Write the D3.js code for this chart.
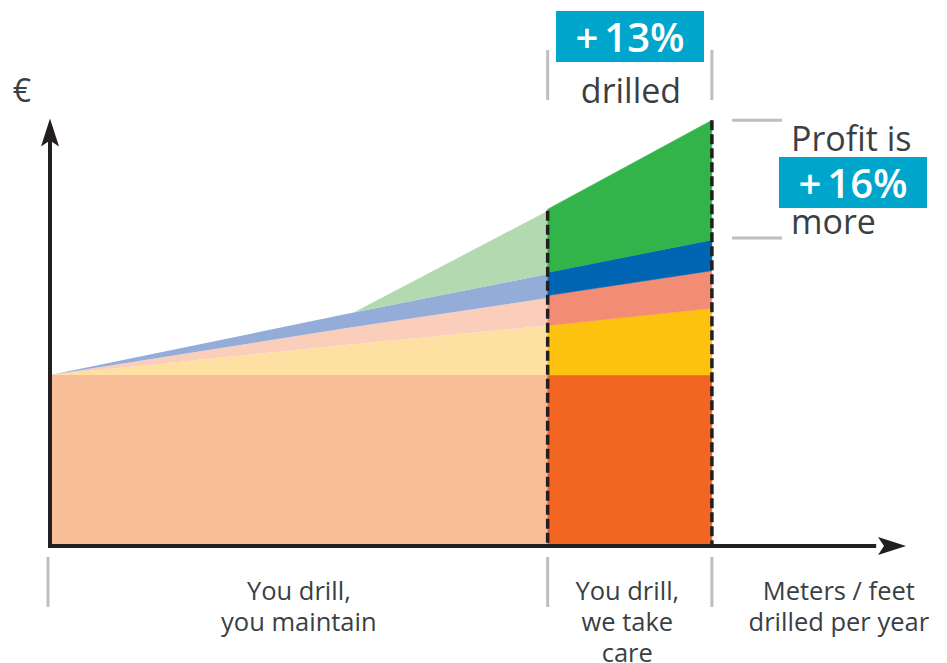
<!DOCTYPE html>
<html>
<head>
<meta charset="utf-8">
<script src="https://cdn.jsdelivr.net/npm/d3@7"></script>
<style>
  body { margin: 0; background: #fff; }
  text { font-family: "Open Sans", "Noto Sans", sans-serif; fill: #3a3f44; }
</style>
</head>
<body>
<svg id="chart" width="947" height="663"></svg>
<script>
// layers, bottom to top
var layers = ['base', 'yellow', 'pink', 'blue', 'green'];

// "you drill, you maintain" part (x in meters, index 100 = today)
var leftX      = [0, 61, 100];
var leftBase   = [100, 100, 100];
var leftYellow = [0, 18, 29];
var leftPink   = [0, 10, 16];
var leftBlue   = [0, 8.5, 14];
var leftGreen  = [0, 0, 37];

// "you drill, we take care" part
var rightX      = [100, 133];
var rightBase   = [100, 100];
var rightYellow = [29, 39];
var rightPink   = [17.5, 22];
var rightBlue   = [13.5, 18];
var rightGreen  = [37, 70];

var leftColors  = ['#f9be97', '#fee0a3', '#fbcebc', '#94acd8', '#b3d9b0'];
var rightColors = ['#f26522', '#fdc210', '#f38c74', '#0066b3', '#33b44a'];

var bottomLabels = [
  {x: 50, lines: ['You drill,', 'you maintain']},
  {x: 116, lines: ['You drill,', 'we take', 'care']},
  {x: 158.5, lines: ['Meters / feet', 'drilled per year']}
];

var dark = '#231f20', grey = '#bcbec0', boxBlue = '#00a5cb';

var svg = d3.select('#chart');

var x = d3.scaleLinear().domain([0, 172]).range([50, 906]);
var y = d3.scaleLinear().domain([0, 250]).range([546, 118.5]);

function rows(xs, arrs) {
  return xs.map(function(v, i) {
    var r = {x: v};
    layers.forEach(function(k, j) { r[k] = arrs[j][i]; });
    return r;
  });
}

var leftData = rows(leftX, [leftBase, leftYellow, leftPink, leftBlue, leftGreen]);
var rightData = rows(rightX, [rightBase, rightYellow, rightPink, rightBlue, rightGreen]);

var stack = d3.stack().keys(layers);
var area = d3.area()
  .x(function(d) { return x(d.data.x); })
  .y0(function(d) { return y(d[0]); })
  .y1(function(d) { return y(d[1]); });

svg.append('g').selectAll('path')
  .data(stack(leftData))
  .enter().append('path')
    .attr('fill', function(d, i) { return leftColors[i]; })
    .attr('d', area);

svg.append('g').selectAll('path')
  .data(stack(rightData))
  .enter().append('path')
    .attr('fill', function(d, i) { return rightColors[i]; })
    .attr('stroke', function(d, i) { return rightColors[i]; })
    .attr('stroke-width', 0.5)
    .attr('d', area);

// dashed separators
var topLeft = stack(leftData)[4][2][1];
var topRight = stack(rightData)[4][1][1];
[[100, topLeft], [133, topRight]].forEach(function(p) {
  svg.append('line')
    .attr('x1', x(p[0])).attr('x2', x(p[0]))
    .attr('y1', y(p[1])).attr('y2', y(0))
    .attr('stroke', dark).attr('stroke-width', 3.5)
    .attr('stroke-dasharray', '10,4');
});

// axes
svg.append('line')
  .attr('x1', x(0)).attr('x2', x(0))
  .attr('y1', y(0) + 2).attr('y2', y(240))
  .attr('stroke', dark).attr('stroke-width', 4);
svg.append('line')
  .attr('x1', x(0) - 2).attr('x2', x(166))
  .attr('y1', y(0)).attr('y2', y(0))
  .attr('stroke', dark).attr('stroke-width', 4);

var ax = x(0), ay = y(250);
svg.append('path')
  .attr('d', 'M' + ax + ',' + ay + ' L' + (ax + 9) + ',' + (ay + 28) + ' L' + ax + ',' + (ay + 22) + ' L' + (ax - 9) + ',' + (ay + 28) + 'Z')
  .attr('fill', dark);
var bx = x(172), by = y(0);
svg.append('path')
  .attr('d', 'M' + bx + ',' + by + ' L' + (bx - 28) + ',' + (by - 9) + ' L' + (bx - 22) + ',' + by + ' L' + (bx - 28) + ',' + (by + 9) + 'Z')
  .attr('fill', dark);

svg.append('text')
  .attr('x', 22).attr('y', 102)
  .attr('text-anchor', 'middle')
  .style('font-size', '32px')
  .text('€');

// grey brackets
function greyLine(x1, y1, x2, y2) {
  svg.append('line')
    .attr('x1', x1).attr('y1', y1).attr('x2', x2).attr('y2', y2)
    .attr('stroke', grey).attr('stroke-width', 3);
}
var profitTop = y(100 + rightYellow[1] + rightPink[1] + rightBlue[1] + rightGreen[1]);
greyLine(x(100), 50, x(100), 100);
greyLine(x(133), 50, x(133), 100);
greyLine(x(0) - 2, 557, x(0) - 2, 607);
greyLine(x(100), 557, x(100), 607);
greyLine(x(133), 557, x(133), 607);
greyLine(732, profitTop, 782, profitTop);
greyLine(732, 238, 782, 238);

function pctBox(bx, by, label) {
  svg.append('rect').attr('x', bx).attr('y', by).attr('width', 148).attr('height', 51).attr('fill', boxBlue);
  var t = svg.append('text').attr('x', bx + 74).attr('y', by + 41).attr('text-anchor', 'middle')
    .style('font-size', '40px').style('font-weight', '600').style('fill', '#fff');
  t.append('tspan').text('+');
  t.append('tspan').attr('dx', 6).text(label);
}

pctBox(556, 11, '13%');
svg.append('text').attr('x', 631).attr('y', 103).attr('text-anchor', 'middle')
  .style('font-size', '34px').text('drilled');

svg.append('text').attr('x', 791).attr('y', 151).style('font-size', '34px').text('Profit is');
pctBox(779, 157, '16%');
svg.append('text').attr('x', 791).attr('y', 234).style('font-size', '34px').text('more');

// bottom labels
bottomLabels.forEach(function(l) {
  var t = svg.append('text')
    .attr('x', x(l.x)).attr('y', 600)
    .attr('text-anchor', 'middle')
    .style('font-size', '25.5px');
  l.lines.forEach(function(s, i) {
    t.append('tspan').attr('x', x(l.x)).attr('dy', i ? 31 : 0).text(s);
  });
});
</script>
</body>
</html>
